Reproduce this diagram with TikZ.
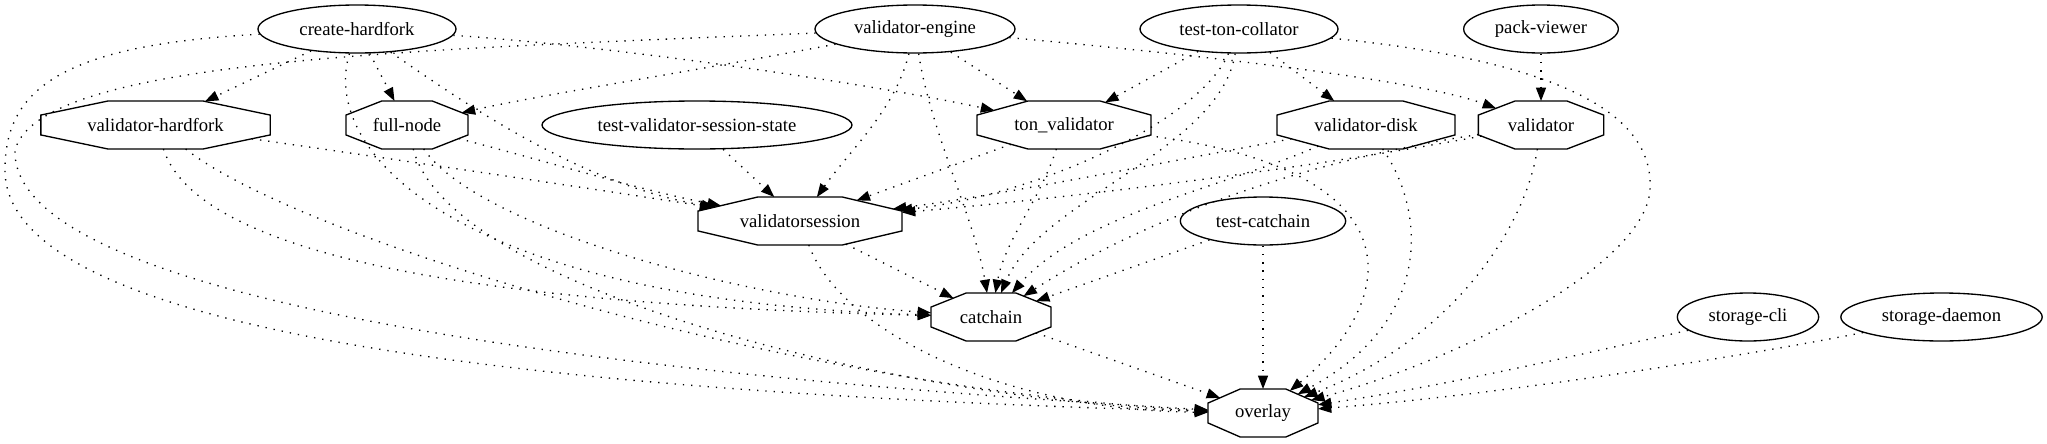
\documentclass[tikz,border=0pt]{standalone}
\usepackage{fontspec}
\setmainfont{Liberation Serif}
\usetikzlibrary{shapes.geometric,arrows.meta}

% octagon that fills the node box (border follows the octagon)
\makeatletter
\def\octboxgetsize{%
  \northeast \edef\octnex{\pgf@sys@tonumber\pgf@x}\edef\octney{\pgf@sys@tonumber\pgf@y}%
  \southwest \edef\octswx{\pgf@sys@tonumber\pgf@x}\edef\octswy{\pgf@sys@tonumber\pgf@y}%
  \pgfmathsetmacro\octcx{(\octnex+\octswx)/2}%
  \pgfmathsetmacro\octcy{(\octney+\octswy)/2}%
  \pgfmathsetmacro\octa{(\octnex-\octswx)/2}%
  \pgfmathsetmacro\octb{(\octney-\octswy)/2}%
  \pgfmathsetmacro\octas{0.41421*\octa}%
  \pgfmathsetmacro\octbs{0.41421*\octb}%
}
\pgfdeclareshape{octbox}{%
  \inheritsavedanchors[from=rectangle]%
  \inheritanchor[from=rectangle]{center}%
  \inheritanchor[from=rectangle]{text}%
  \inheritanchor[from=rectangle]{base}%
  \inheritanchor[from=rectangle]{north}%
  \inheritanchor[from=rectangle]{south}%
  \inheritanchor[from=rectangle]{east}%
  \inheritanchor[from=rectangle]{west}%
  \backgroundpath{%
    \octboxgetsize
    \pgfpathmoveto{\pgfpoint{\octcx pt+\octas pt}{\octcy pt+\octb pt}}%
    \pgfpathlineto{\pgfpoint{\octcx pt-\octas pt}{\octcy pt+\octb pt}}%
    \pgfpathlineto{\pgfpoint{\octcx pt-\octa pt}{\octcy pt+\octbs pt}}%
    \pgfpathlineto{\pgfpoint{\octcx pt-\octa pt}{\octcy pt-\octbs pt}}%
    \pgfpathlineto{\pgfpoint{\octcx pt-\octas pt}{\octcy pt-\octb pt}}%
    \pgfpathlineto{\pgfpoint{\octcx pt+\octas pt}{\octcy pt-\octb pt}}%
    \pgfpathlineto{\pgfpoint{\octcx pt+\octa pt}{\octcy pt-\octbs pt}}%
    \pgfpathlineto{\pgfpoint{\octcx pt+\octa pt}{\octcy pt+\octbs pt}}%
    \pgfpathclose
  }%
  \anchorborder{%
    \edef\octdx{\pgf@sys@tonumber\pgf@x}\edef\octdy{\pgf@sys@tonumber\pgf@y}%
    \octboxgetsize
    \pgfmathsetmacro\octdu{abs(\octdx)/\octa}%
    \pgfmathsetmacro\octdv{abs(\octdy)/\octb}%
    \pgfmathsetmacro\octt{1/max(\octdu,\octdv,(\octdu+\octdv)/1.41421)}%
    \pgfpoint{\octcx pt+\octt*(\octdx pt)}{\octcy pt+\octt*(\octdy pt)}%
  }%
}
\makeatother

\tikzset{
    prog/.style={ellipse, draw, line width=1pt, inner sep=0pt, minimum height=36pt,
        minimum width=#1, font=\fontsize{14}{17}\selectfont},
    lib/.style={octbox, draw, line width=1pt, inner sep=0pt, outer sep=0pt, minimum height=36pt,
        minimum width=#1, font=\fontsize{14}{17}\selectfont},
    dep/.style={line width=1pt, dash pattern=on 1pt off 5.2pt,
        -{Triangle[length=10pt,width=7.5pt]}}
}

\begin{document}
\begin{tikzpicture}[x=0.75pt, y=-0.75pt]
    \useasboundingbox (0,0) rectangle (2047,443);

    % programs
    \node[prog=148.5pt] (chf)   at (357,29)    {create-hardfork};
    \node[prog=150pt]   (veng)  at (915,29)    {validator-engine};
    \node[prog=148.5pt] (ttc)   at (1239,29)   {test-ton-collator};
    \node[prog=116pt]   (pview) at (1541,29)   {pack-viewer};
    \node[prog=232.5pt] (tvss)  at (697,125)   {test-validator-session-state};
    \node[prog=124pt]   (tcc)   at (1263,221)  {test-catchain};
    \node[prog=106pt]   (scli)  at (1748,317)  {storage-cli};
    \node[prog=151pt]   (sdmn)  at (1941.5,317) {storage-daemon};

    % libraries
    \node[lib=172pt]    (vhf)    at (155.5,125) {validator-hardfork};
    \node[lib=91.5pt]   (fnode)  at (407,125)   {full-node};
    \node[lib=130.5pt]  (tonv)   at (1064,125)  {ton\_validator};
    \node[lib=133.5pt]  (vdisk)  at (1366,125)  {validator-disk};
    \node[lib=94pt]     (valid)  at (1541,125)  {validator};
    \node[lib=153pt]    (vsess)  at (800,221)   {validatorsession};
    \node[lib=90pt]     (cchain) at (991,317)   {catchain};
    \node[lib=82.5pt]   (ovl)    at (1263,413)  {overlay};

    % create-hardfork
    \draw[dep] (chf) -- (vhf);
    \draw[dep] (chf) -- (fnode);
    \draw[dep] (chf) .. controls (600,45) and (850,80) .. (tonv);
    \draw[dep] (chf) .. controls (460,100) and (580,185) .. (vsess);
    \draw[dep] (chf) .. controls (320,150) and (450,300) .. (cchain);
    \draw[dep] (chf) .. controls (60,45) and (5,90) .. (5,170) .. controls (5,320) and (450,390) .. (ovl);

    % validator-engine
    \draw[dep] (veng) .. controls (700,70) and (540,95) .. (fnode);
    \draw[dep] (veng) -- (tonv);
    \draw[dep] (veng) .. controls (1200,55) and (1420,80) .. (valid);
    \draw[dep] (veng) .. controls (895,110) and (850,150) .. (vsess);
    \draw[dep] (veng) .. controls (930,130) and (975,220) .. (cchain);
    \draw[dep] (veng) .. controls (400,50) and (40,60) .. (15,150) .. controls (10,300) and (600,375) .. (ovl);

    % test-ton-collator
    \draw[dep] (ttc) -- (tonv);
    \draw[dep] (ttc) -- (vdisk);
    \draw[dep] (ttc) .. controls (1200,120) and (1040,195) .. (vsess);
    \draw[dep] (ttc) .. controls (1220,150) and (1040,200) .. (cchain);
    \draw[dep] (ttc) .. controls (1550,60) and (1655,110) .. (1650,190) .. controls (1645,265) and (1460,360) .. (ovl);

    \draw[dep] (pview) -- (valid);
    \draw[dep] (tvss) -- (vsess);

    % validator-hardfork, full-node
    \draw[dep] (vhf) .. controls (400,160) and (600,190) .. (vsess);
    \draw[dep] (vhf) .. controls (200,260) and (500,305) .. (cchain);
    \draw[dep] (vhf) .. controls (300,240) and (800,390) .. (ovl);
    \draw[dep] (fnode) .. controls (560,165) and (640,190) .. (vsess);
    \draw[dep] (fnode) .. controls (480,230) and (750,300) .. (cchain);
    \draw[dep] (fnode) .. controls (450,290) and (900,400) .. (ovl);

    % ton_validator, validator-disk, validator
    \draw[dep] (tonv) -- (vsess);
    \draw[dep] (tonv) .. controls (1040,200) and (1005,240) .. (cchain);
    \draw[dep] (tonv) .. controls (1420,170) and (1400,300) .. (ovl);
    \draw[dep] (vdisk) .. controls (1150,165) and (1000,195) .. (vsess);
    \draw[dep] (vdisk) .. controls (1230,185) and (1080,215) .. (cchain);
    \draw[dep] (vdisk) .. controls (1425,210) and (1435,320) .. (ovl);
    \draw[dep] (valid) .. controls (1300,170) and (1050,200) .. (vsess);
    \draw[dep] (valid) .. controls (1310,160) and (1150,215) .. (cchain);
    \draw[dep] (valid) .. controls (1525,230) and (1450,340) .. (ovl);

    % lower part
    \draw[dep] (vsess) -- (cchain);
    \draw[dep] (vsess) .. controls (840,330) and (1000,410) .. (ovl);
    \draw[dep] (tcc) -- (cchain);
    \draw[dep] (tcc) -- (ovl);
    \draw[dep] (cchain) -- (ovl);
    \draw[dep] (scli) .. controls (1600,350) and (1450,385) .. (ovl);
    \draw[dep] (sdmn) .. controls (1750,355) and (1500,395) .. (ovl);
\end{tikzpicture}
\end{document}
